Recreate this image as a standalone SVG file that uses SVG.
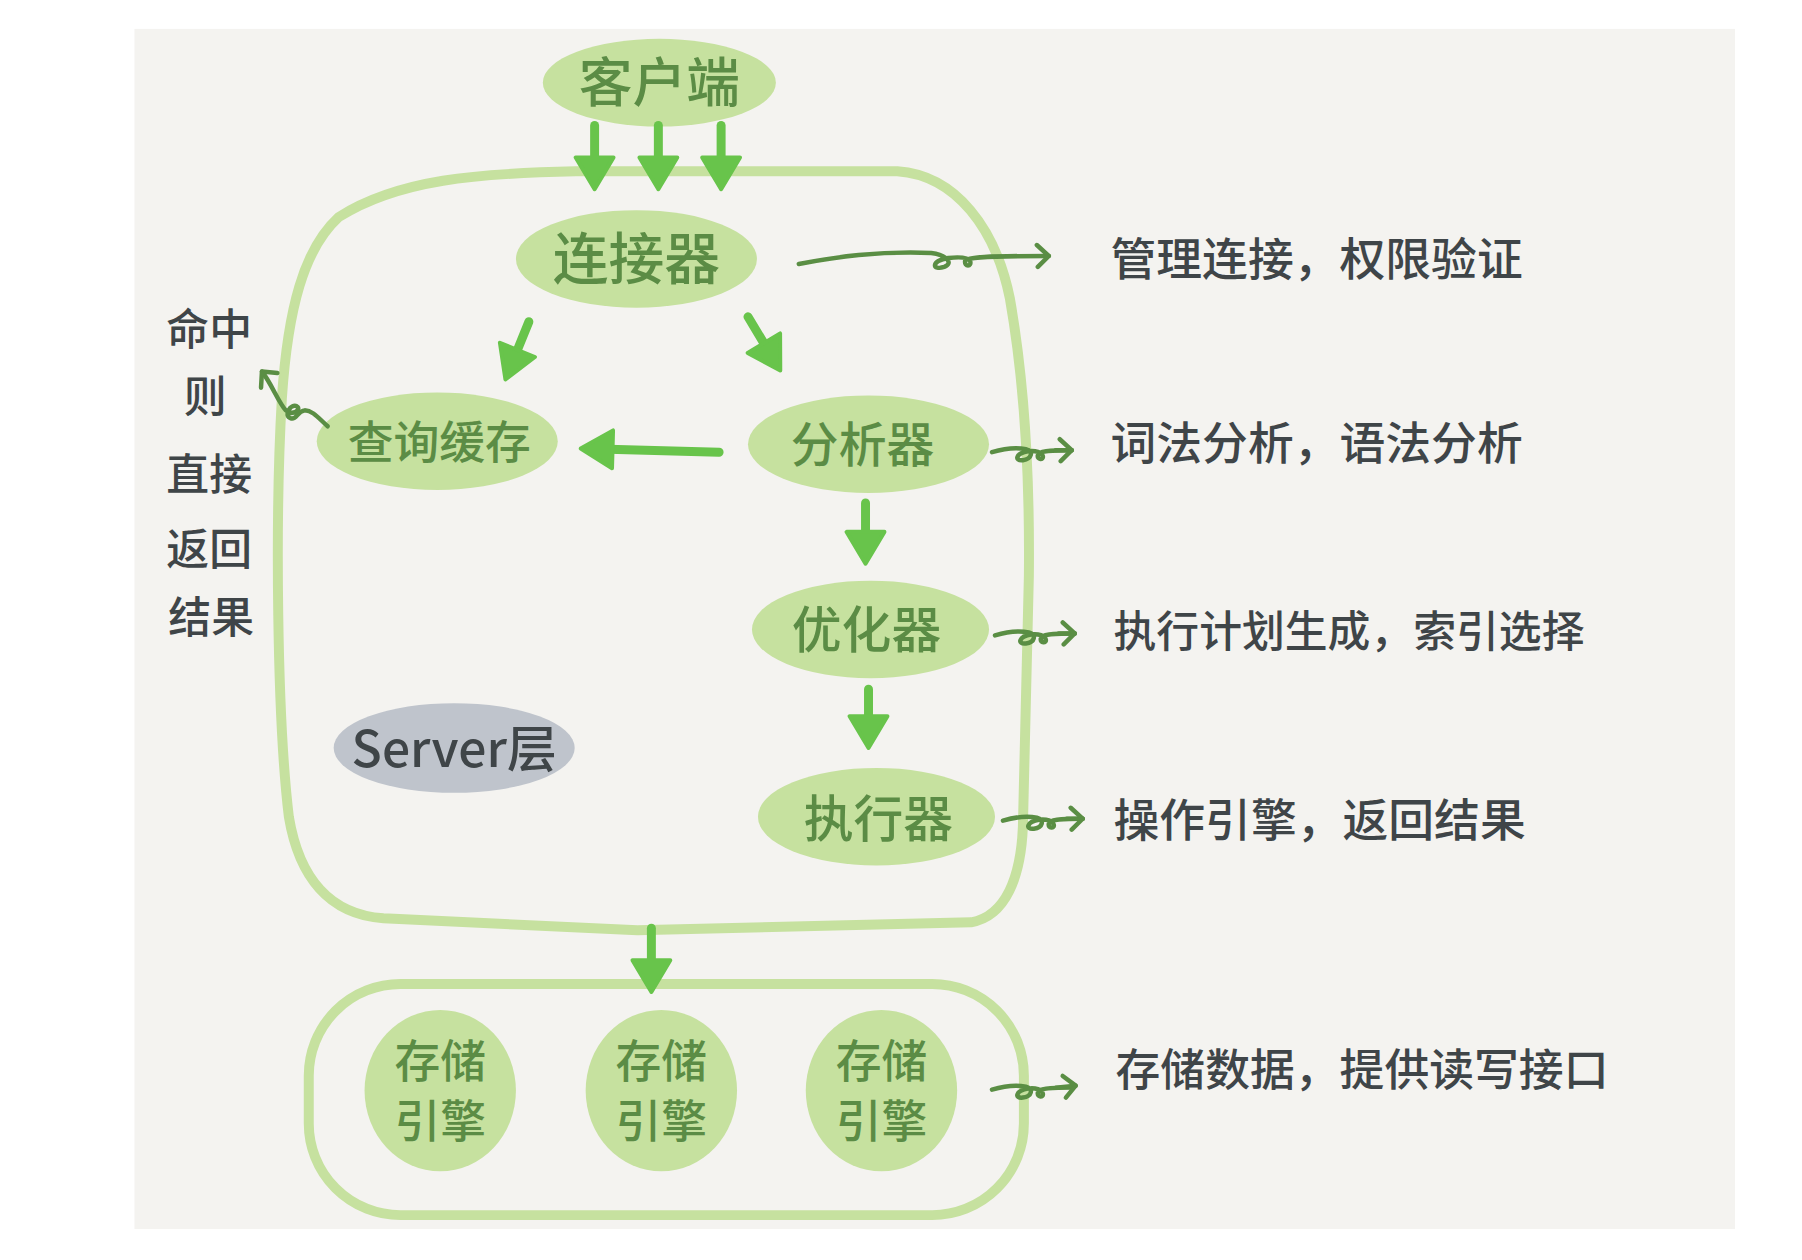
<svg xmlns="http://www.w3.org/2000/svg" xmlns:xlink="http://www.w3.org/1999/xlink" width="1802" height="1260" viewBox="0 0 1802 1260">
<defs>
<style>
.node{fill:#c6e19f;}
.gray{fill:#bfc4cc;}
.lbl{font-family:"Noto Sans CJK SC","Noto Sans",sans-serif;font-weight:500;fill:#5b8c45;text-anchor:middle;}
.note{font-family:"Noto Sans CJK SC","Noto Sans",sans-serif;font-weight:500;fill:#3f4548;}
.box{fill:none;stroke:#c6e19f;stroke-width:10;stroke-linejoin:round;}
.big{fill:none;stroke:#68c44b;stroke-width:9;stroke-linecap:round;}
.sq{fill:none;stroke:#5a8e44;stroke-width:4.5;stroke-linecap:round;stroke-linejoin:round;}
</style>
<marker id="tri" markerUnits="userSpaceOnUse" markerWidth="44" markerHeight="44" viewBox="-4 -22 44 44" refX="4" refY="0" orient="auto">
<path d="M0,-19 L32,0 L0,19 Z" fill="#68c44b" stroke="#68c44b" stroke-width="4" stroke-linejoin="round"/>
</marker>
<marker id="open" markerUnits="userSpaceOnUse" markerWidth="30" markerHeight="30" viewBox="-15 -15 30 30" refX="0" refY="0" orient="auto">
<path d="M-12,-11 L0,0 L-11,11" fill="none" stroke="#5a8e44" stroke-width="4.5" stroke-linecap="round" stroke-linejoin="round"/>
</marker>
<path id="squig" d="M0,0 C10,-3 24,-5 34,-3 C42,-1 40,7 31,8 C22,9 24,1 36,-1 C44,-2 50,0 51,4 C52,8 45,8 46,3 C47,-1 56,-2 80,-2"/>
</defs>
<rect x="0" y="0" width="1802" height="1260" fill="#ffffff"/>
<g transform="scale(0.996)">
<rect x="135" y="29" width="1607" height="1205" fill="#f4f3f0"/>

<g id="server-layer">
<path class="box" d="M 340,218 C 400,180 480,174 578,172 L 901,172 C 960,176 1000,230 1014,300 C 1028,380 1034,480 1033,578 L 1027,830 C 1025,880 1010,920 975,926 L 640,934 L 385,922 C 330,918 300,880 290,820 C 278,720 276,520 283,400 C 289,310 305,250 340,218 Z"/>
</g>
<g id="storage-layer">
<rect class="box" x="310" y="988" width="718" height="232" rx="92" ry="92"/>
</g>

<g id="client">
<ellipse class="node" cx="662" cy="83" rx="117" ry="44"/>
<text class="lbl" x="662" y="102" font-size="54">客户端</text>
</g>
<g id="connector">
<ellipse class="node" cx="639" cy="260" rx="121" ry="49"/>
<text class="lbl" x="639" y="280" font-size="56">连接器</text>
</g>
<g id="query-cache">
<ellipse class="node" cx="439" cy="443" rx="121" ry="49"/>
<text class="lbl" x="441" y="461" font-size="46">查询缓存</text>
</g>
<g id="analyzer">
<ellipse class="node" cx="872" cy="446" rx="121" ry="49"/>
<text class="lbl" x="866" y="464" font-size="48">分析器</text>
</g>
<g id="optimizer">
<ellipse class="node" cx="874" cy="632" rx="119" ry="49"/>
<text class="lbl" x="870" y="651" font-size="50">优化器</text>
</g>
<g id="executor">
<ellipse class="node" cx="880" cy="820" rx="119" ry="49"/>
<text class="lbl" x="882" y="840" font-size="50">执行器</text>
</g>
<g id="server-label">
<ellipse class="gray" cx="456" cy="751" rx="121" ry="45"/>
<text class="note" x="456" y="770" font-size="50" text-anchor="middle">Server层</text>
</g>
<g id="engine1">
<ellipse class="node" cx="442" cy="1095" rx="76" ry="81"/>
<text class="lbl" x="442" y="1082" font-size="46">存储</text>
<text class="lbl" x="442" y="1143" font-size="46">引擎</text>
</g>
<g id="engine2">
<ellipse class="node" cx="664" cy="1095" rx="76" ry="81"/>
<text class="lbl" x="664" y="1082" font-size="46">存储</text>
<text class="lbl" x="664" y="1143" font-size="46">引擎</text>
</g>
<g id="engine3">
<ellipse class="node" cx="885" cy="1095" rx="76" ry="81"/>
<text class="lbl" x="885" y="1082" font-size="46">存储</text>
<text class="lbl" x="885" y="1143" font-size="46">引擎</text>
</g>

<g id="notes">
<text class="note" x="1115" y="277" font-size="46">管理连接，权限验证</text>
<text class="note" x="1115" y="462" font-size="46">词法分析，语法分析</text>
<text class="note" x="1118" y="650" font-size="43">执行计划生成，索引选择</text>
<text class="note" x="1118" y="840" font-size="46">操作引擎，返回结果</text>
<text class="note" x="1120" y="1090" font-size="45">存储数据，提供读写接口</text>
<g text-anchor="middle" font-size="43">
<text class="note" x="210" y="346">命中</text>
<text class="note" x="206" y="414">则</text>
<text class="note" x="210" y="492">直接</text>
<text class="note" x="210" y="567">返回</text>
<text class="note" x="212" y="636">结果</text>
</g>
</g>

<g id="connectors">
<line class="big" x1="597" y1="126" x2="597" y2="162" marker-end="url(#tri)"/>
<line class="big" x1="661" y1="126" x2="661" y2="162" marker-end="url(#tri)"/>
<line class="big" x1="724" y1="126" x2="724" y2="162" marker-end="url(#tri)"/>
<line class="big" x1="531" y1="323" x2="518" y2="355" marker-end="url(#tri)"/>
<line class="big" x1="751" y1="318" x2="769" y2="348" marker-end="url(#tri)"/>
<line class="big" x1="722" y1="454" x2="611" y2="451" marker-end="url(#tri)"/>
<line class="big" x1="869" y1="505" x2="869" y2="538" marker-end="url(#tri)"/>
<line class="big" x1="872" y1="692" x2="872" y2="723" marker-end="url(#tri)"/>
<line class="big" x1="654" y1="932" x2="654" y2="968" marker-end="url(#tri)"/>

<path class="sq" d="M 802,265 C 840,258 880,252 935,254 C 950,256 958,264 948,268 C 936,272 934,262 952,259 C 962,258 972,258 974,262 C 976,268 968,268 969,262 C 971,258 990,257 1053,257" marker-end="url(#open)"/>
<use xlink:href="#squig" class="sq" transform="translate(996,454)"/>
<path class="sq" d="M 1060,452 L 1076,452" marker-end="url(#open)"/>
<use xlink:href="#squig" class="sq" transform="translate(999,638)"/>
<path class="sq" d="M 1063,636 L 1079,636" marker-end="url(#open)"/>
<use xlink:href="#squig" class="sq" transform="translate(1007,824)"/>
<path class="sq" d="M 1071,822 L 1087,822" marker-end="url(#open)"/>
<use xlink:href="#squig" class="sq" transform="translate(996,1094)"/>
<path class="sq" d="M 1060,1092 L 1080,1090" marker-end="url(#open)"/>
<path class="sq" d="M 329,428 C 320,420 314,412 306,412 C 298,413 298,422 292,420 C 284,417 292,405 298,408 C 303,411 294,418 287,412 C 280,405 272,384 263,373" marker-end="url(#open)"/>
</g>
</g>
</svg>
